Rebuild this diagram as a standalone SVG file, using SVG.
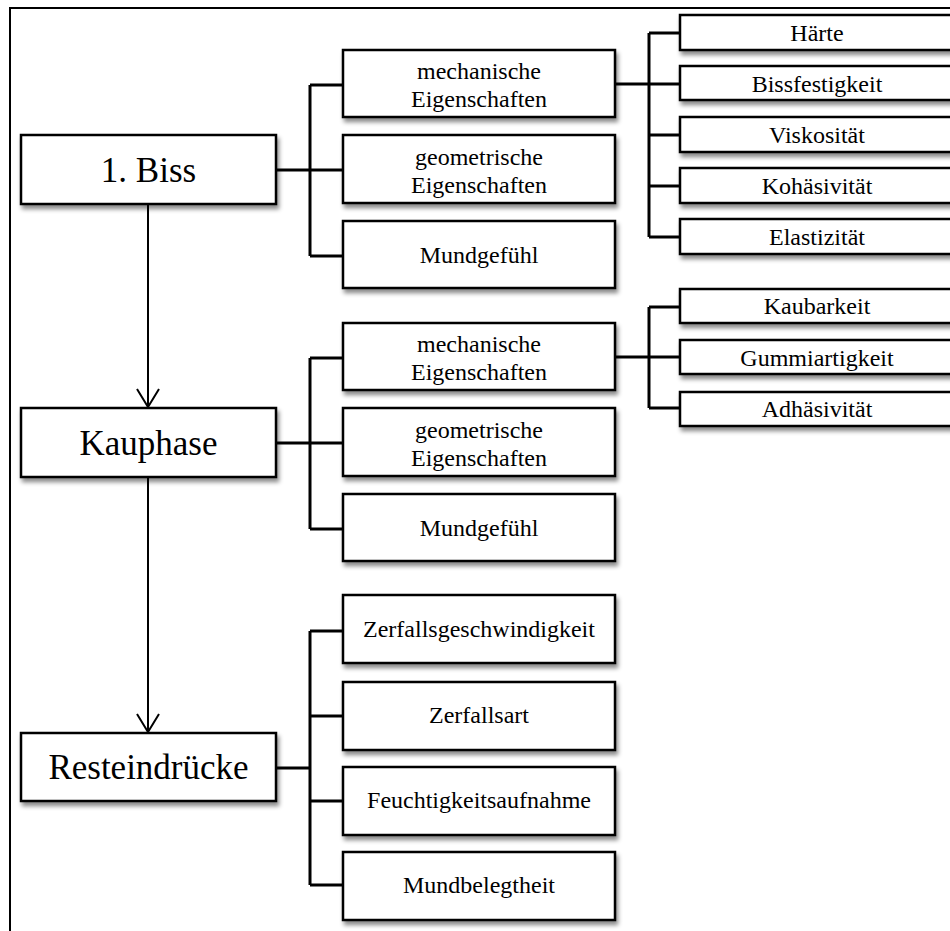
<svg xmlns="http://www.w3.org/2000/svg" width="950" height="931" viewBox="0 0 950 931">
  <defs>
    <filter id="shadow" x="-10%" y="-20%" width="130%" height="160%">
      <feDropShadow dx="2" dy="4" stdDeviation="2.2" flood-color="#000" flood-opacity="0.45"/>
    </filter>
    <!-- open V arrowhead, drawn pointing along +x -->
    <marker id="vhead" viewBox="0 0 20 24" refX="19" refY="12" markerWidth="20" markerHeight="24" markerUnits="userSpaceOnUse" orient="auto">
      <path d="M1,1 L19,12 L1,23" fill="none" stroke="#000" stroke-width="2"/>
    </marker>
  </defs>
  <style>
    .box { fill: #fff; stroke: #000; stroke-width: 2.5; filter: url(#shadow); }
    .frame { fill: none; stroke: #000; stroke-width: 2; }
    .conn { fill: none; stroke: #000; stroke-width: 3; }
    .flow { fill: none; stroke: #000; stroke-width: 2; }
    text { font-family: "Liberation Serif", "Times New Roman", serif; fill: #000; text-anchor: middle; }
    .big { font-size: 35px; }
    .mid { font-size: 24px; }
    .small { font-size: 24px; }
  </style>

  <rect width="950" height="931" fill="#fff"/>
  <rect class="frame" x="10" y="8" width="970" height="950"/>

  <!-- connectors -->
  <g id="connectors">
    <!-- phase flow -->
    <line class="flow" x1="148" y1="204" x2="148" y2="407" marker-end="url(#vhead)"/>
    <line class="flow" x1="148" y1="477" x2="148" y2="732" marker-end="url(#vhead)"/>
    <!-- 1. Biss branches -->
    <path class="conn" d="M276,170 H343 M310,85 V256 M310,85 H343 M310,256 H343"/>
    <path class="conn" d="M615,84 H680 M649,33 V237 M649,33 H680 M649,135 H680 M649,186 H680 M649,237 H680"/>
    <!-- Kauphase branches -->
    <path class="conn" d="M276,443 H343 M310,358 V529 M310,358 H343 M310,529 H343"/>
    <path class="conn" d="M615,357 H680 M649,307 V408 M649,307 H680 M649,408 H680"/>
    <!-- Resteindrücke branches -->
    <path class="conn" d="M276,768 H310 M310,631 V885 M310,631 H343 M310,716 H343 M310,801 H343 M310,885 H343"/>
  </g>

  <!-- phases -->
  <g id="biss">
    <rect class="box" x="21" y="135" width="255" height="69"/>
    <text class="big" x="148.5" y="182">1. Biss</text>
  </g>
  <g id="kauphase">
    <rect class="box" x="21" y="408" width="255" height="69"/>
    <text class="big" x="148.5" y="455">Kauphase</text>
  </g>
  <g id="resteindruecke">
    <rect class="box" x="21" y="733" width="255" height="68"/>
    <text class="big" x="148.5" y="779">Resteindrücke</text>
  </g>

  <!-- 1. Biss: categories -->
  <g id="biss-mech">
    <rect class="box" x="343" y="50" width="272" height="67"/>
    <text class="mid" x="479" y="79">mechanische</text>
    <text class="mid" x="479" y="107">Eigenschaften</text>
  </g>
  <g id="biss-geo">
    <rect class="box" x="343" y="135" width="272" height="68"/>
    <text class="mid" x="479" y="165">geometrische</text>
    <text class="mid" x="479" y="193">Eigenschaften</text>
  </g>
  <g id="biss-mund">
    <rect class="box" x="343" y="221" width="272" height="67"/>
    <text class="mid" x="479" y="263">Mundgefühl</text>
  </g>

  <!-- 1. Biss: mechanical properties -->
  <g id="haerte">
    <rect class="box" x="680" y="15" width="280" height="35"/>
    <text class="small" x="817" y="41">Härte</text>
  </g>
  <g id="bissfestigkeit">
    <rect class="box" x="680" y="66" width="280" height="34"/>
    <text class="small" x="817" y="92">Bissfestigkeit</text>
  </g>
  <g id="viskositaet">
    <rect class="box" x="680" y="117" width="280" height="35"/>
    <text class="small" x="817" y="143">Viskosität</text>
  </g>
  <g id="kohaesivitaet">
    <rect class="box" x="680" y="168" width="280" height="35"/>
    <text class="small" x="817" y="194">Kohäsivität</text>
  </g>
  <g id="elastizitaet">
    <rect class="box" x="680" y="219" width="280" height="35"/>
    <text class="small" x="817" y="245">Elastizität</text>
  </g>

  <!-- Kauphase: categories -->
  <g id="kau-mech">
    <rect class="box" x="343" y="323" width="272" height="67"/>
    <text class="mid" x="479" y="352">mechanische</text>
    <text class="mid" x="479" y="380">Eigenschaften</text>
  </g>
  <g id="kau-geo">
    <rect class="box" x="343" y="408" width="272" height="68"/>
    <text class="mid" x="479" y="438">geometrische</text>
    <text class="mid" x="479" y="466">Eigenschaften</text>
  </g>
  <g id="kau-mund">
    <rect class="box" x="343" y="494" width="272" height="67"/>
    <text class="mid" x="479" y="536">Mundgefühl</text>
  </g>

  <!-- Kauphase: mechanical properties -->
  <g id="kaubarkeit">
    <rect class="box" x="680" y="289" width="280" height="34"/>
    <text class="small" x="817" y="314">Kaubarkeit</text>
  </g>
  <g id="gummiartigkeit">
    <rect class="box" x="680" y="340" width="280" height="34"/>
    <text class="small" x="817" y="366">Gummiartigkeit</text>
  </g>
  <g id="adhaesivitaet">
    <rect class="box" x="680" y="392" width="280" height="34"/>
    <text class="small" x="817" y="417">Adhäsivität</text>
  </g>

  <!-- Resteindrücke: categories -->
  <g id="zerfallsgeschwindigkeit">
    <rect class="box" x="343" y="595" width="272" height="68"/>
    <text class="mid" x="479" y="637">Zerfallsgeschwindigkeit</text>
  </g>
  <g id="zerfallsart">
    <rect class="box" x="343" y="682" width="272" height="68"/>
    <text class="mid" x="479" y="723">Zerfallsart</text>
  </g>
  <g id="feuchtigkeitsaufnahme">
    <rect class="box" x="343" y="767" width="272" height="68"/>
    <text class="mid" x="479" y="808">Feuchtigkeitsaufnahme</text>
  </g>
  <g id="mundbelegtheit">
    <rect class="box" x="343" y="852" width="272" height="68"/>
    <text class="mid" x="479" y="893">Mundbelegtheit</text>
  </g>
</svg>
